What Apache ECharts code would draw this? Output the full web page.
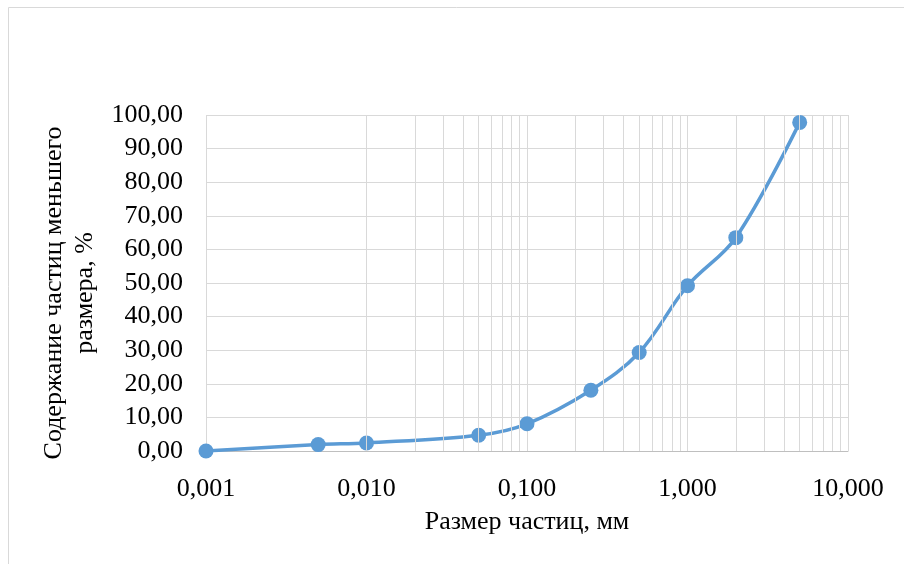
<!DOCTYPE html>
<html><head><meta charset="utf-8">
<script src="https://cdn.jsdelivr.net/npm/echarts@6/dist/echarts.min.js"></script>
<style>html,body{margin:0;padding:0;background:#fff}#c{width:904px;height:564px}</style>
</head><body><div id="c"></div>
<script>
const sizes = [0.001, 0.005, 0.01, 0.05, 0.1, 0.25, 0.5, 1, 2, 5];
const passing = [0, 1.9, 2.4, 4.7, 8.1, 18.1, 29.3, 49.2, 63.5, 97.8];
const minorTicks = [0.002,0.003,0.004,0.005,0.006,0.007,0.008,0.009,
  0.02,0.03,0.04,0.05,0.06,0.07,0.08,0.09,
  0.2,0.3,0.4,0.5,0.6,0.7,0.8,0.9,
  2,3,4,5,6,7,8,9];
const xTitle = 'Размер частиц, мм';
const yTitle = 'Содержание частиц меньшего\nразмера, %';

const font = '"Liberation Serif", "Times New Roman", serif';
const chart = echarts.init(document.getElementById('c'), null, {renderer:'canvas'});
chart.setOption({
  animation: false,
  graphic: [{type:'rect', shape:{x:8.5,y:7.5,width:1000,height:1000}, style:{fill:'none',stroke:'#d9d9d9',lineWidth:1}, silent:true}],
  grid: {left:206, right:56, top:115, bottom:113, containLabel:false},
  xAxis: {
    type:'log', logBase:10, min:0.001, max:10,
    name: xTitle, nameLocation:'middle', nameGap:58,
    nameTextStyle:{fontFamily:font, fontSize:26, color:'#000'},
    axisLine:{show:true, lineStyle:{color:'#bfbfbf', width:1}},
    axisTick:{show:false},
    axisLabel:{fontFamily:font, fontSize:26, color:'#000', margin:25,
      formatter: v => Number(v).toFixed(3).replace('.', ',')},
    splitLine:{show:true, lineStyle:{color:'#d9d9d9', width:1}}
  },
  yAxis: {
    type:'value', min:0, max:100, interval:10,
    name: yTitle, nameLocation:'middle', nameGap:93, nameRotate:90,
    nameTextStyle:{fontFamily:font, fontSize:26, color:'#000', lineHeight:31, align:'center', padding:[0,20,0,0]},
    axisLine:{show:false}, axisTick:{show:false},
    axisLabel:{fontFamily:font, fontSize:26, color:'#000', margin:23,
      formatter: v => Number(v).toFixed(2).replace('.', ',')},
    splitLine:{show:true, lineStyle:{color:'#d9d9d9', width:1}}
  },
  series: [
    {type:'line', data:[], z:1, silent:true,
     markLine:{silent:true, symbol:['none','none'], label:{show:false},
       lineStyle:{color:'#d9d9d9', width:1, type:'solid'},
       data: minorTicks.map(v => ({xAxis:v}))}},
    {type:'line', z:3, data: sizes.map((s,i)=>[s, passing[i]]),
     smooth:0.35, symbol:'circle', symbolSize:15,
     lineStyle:{color:'#5b9bd5', width:3.5},
     itemStyle:{color:'#5b9bd5'}}
  ]
});
</script></body></html>
